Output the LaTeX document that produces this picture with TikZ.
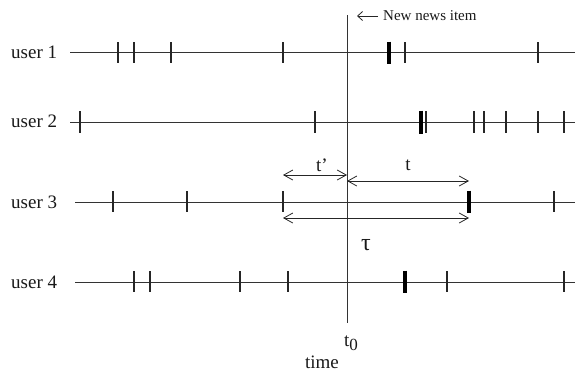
\documentclass[tikz,border=0pt]{standalone}
\usepackage{fontspec}
\setmainfont{Liberation Serif}
\usetikzlibrary{arrows.meta}
\begin{document}
\begin{tikzpicture}[x=1pt,y=-1pt,
  axis/.style={line width=0.9pt,draw=black!80},
  tick/.style={line width=1.1pt,draw=black!85},
  bigtick/.style={line width=4pt,draw=black},
  dim/.style={line width=0.8pt,draw=black!85,{Straight Barb[length=9pt,width=10pt]}-{Straight Barb[length=9pt,width=10pt]}},
  lbl/.style={font=\fontsize{19}{22}\selectfont,inner sep=0pt,text=black!90},
  small/.style={font=\fontsize{15}{18}\selectfont,inner sep=0pt,text=black!90}]
\useasboundingbox (0,0) rectangle (577,372);
% user labels
\node[lbl,anchor=west] (u1) at (11,52) {user 1};
\node[lbl,anchor=west] (u2) at (11,121) {user 2};
\node[lbl,anchor=west] (u3) at (11,202) {user 3};
\node[lbl,anchor=west] (u4) at (11,282) {user 4};
% time lines
\coordinate (a1) at (70,52);  \coordinate (b1) at (575,52);
\coordinate (a2) at (70,122); \coordinate (b2) at (575,122);
\coordinate (a3) at (75,202); \coordinate (b3) at (575,202);
\coordinate (a4) at (75,282); \coordinate (b4) at (575,282);
\draw[axis] (a1) -- (b1);
\draw[axis] (a2) -- (b2);
\draw[axis] (a3) -- (b3);
\draw[axis] (a4) -- (b4);
% vertical t0 line
\coordinate (vt) at (347,15); \coordinate (vb) at (347,323);
\draw[axis] (vt) -- (vb);
% ticks user 1
\foreach \x in {118,134,171,283,405,538} \draw[tick] (\x,42) -- (\x,63);
\draw[bigtick] (389,41.5) -- (389,63.5);
% ticks user 2
\foreach \x in {80,315,426,474,484,506,538,564} \draw[tick] (\x,111) -- (\x,133);
\draw[bigtick] (421,110.5) -- (421,133.5);
% ticks user 3
\foreach \x in {113,187,283,554} \draw[tick] (\x,191) -- (\x,212);
\draw[bigtick] (469,190.5) -- (469,212.5);
% ticks user 4
\foreach \x in {134,150,240,288,447,564} \draw[tick] (\x,271) -- (\x,292);
\draw[bigtick] (405,270.5) -- (405,292.5);
% interval arrows
\coordinate (tpL) at (283,175); \coordinate (tpR) at (347,175);
\coordinate (tL) at (347,181);  \coordinate (tR) at (469,181);
\coordinate (tauL) at (283,218); \coordinate (tauR) at (469,218);
\draw[dim] (tpL) -- (tpR);
\draw[dim] (tL) -- (tR);
\draw[dim] (tauL) -- (tauR);
\node[lbl] (tp) at (322,165) {t’};
\node[lbl] (tt) at (408,165) {t};
\node[lbl,font=\fontsize{24}{26}\selectfont] (tau) at (366,245) {τ};
% news item
\coordinate (nR) at (378,16); \coordinate (nL) at (357,16);
\draw[line width=0.8pt,draw=black!85,-{Straight Barb[length=5pt,width=9pt]}] (nR) -- (nL);
\node[small,anchor=west] (news) at (383,16) {New news item};
% t0 and time
\node[lbl] (t0) at (351,343) {t\raisebox{-4pt}{\fontsize{17}{20}\selectfont 0}};
\node[lbl] (time) at (322,362) {time};
\end{tikzpicture}
\end{document}
